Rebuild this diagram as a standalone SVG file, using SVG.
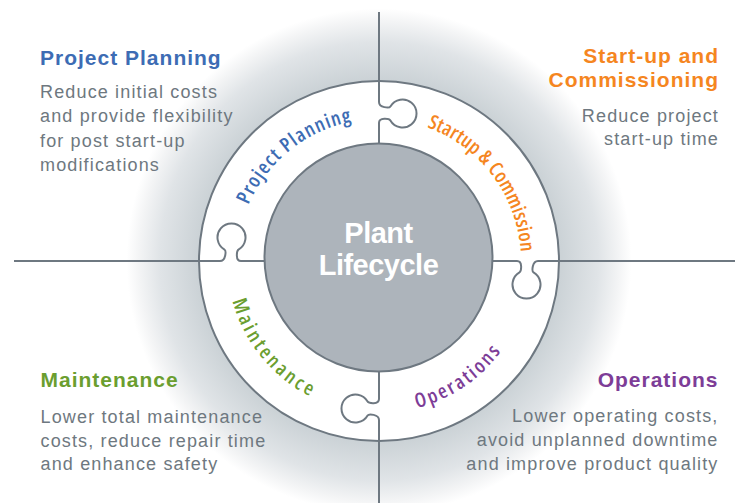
<svg xmlns="http://www.w3.org/2000/svg" width="746" height="503" viewBox="0 0 746 503">
<defs>
<radialGradient id="glow" cx="379" cy="261" r="255" gradientUnits="userSpaceOnUse">
<stop offset="0" stop-color="#c6cdd2"/>
<stop offset="0.71" stop-color="#cbd2d6"/>
<stop offset="0.86" stop-color="#e0e4e7"/>
<stop offset="0.94" stop-color="#f3f4f5"/>
<stop offset="0.99" stop-color="#ffffff"/>
</radialGradient>
<path id="knob" d="M 181 0 L 159 0 C 153 0 152.8 10.4 154.5 11.4 A 14 14 0 1 1 140.5 11.4 C 142.2 10.4 144 0 138 0 L 105 0"/>
<path id="arcTop" d="M 245.6 309.6 A 142 142 0 1 1 512.4 309.6"/>
<path id="arcBot" d="M 229.3 234.6 A 152 152 0 1 0 528.7 234.6"/>
<style>
.ln{fill:none;stroke:#6e7881;stroke-width:2}
.h{font-family:"Liberation Sans",Arial,sans-serif;font-weight:bold;font-size:21px;letter-spacing:1px}
.b{font-family:"Liberation Sans",Arial,sans-serif;font-size:18px;letter-spacing:1.15px;fill:#6e7880}
.r{text-anchor:end}
.arc{font-family:"Open Sans","Liberation Sans",sans-serif;font-stretch:75%;font-weight:600;font-size:20px;text-anchor:middle}
.blue{fill:#3d6cb4}.orange{fill:#f5861f}.green{fill:#6b9e2f}.purple{fill:#7d3d97}
</style>
</defs>
<rect x="0" y="0" width="746" height="503" fill="#ffffff"/>
<circle cx="379" cy="261" r="255" fill="url(#glow)"/>
<g id="connectors">
<line class="ln" x1="14" y1="261" x2="735" y2="261"/>
<line class="ln" x1="379" y1="12" x2="379" y2="503"/>
</g>
<g id="ring">
<circle cx="379" cy="261" r="180" fill="#ffffff" stroke="#6e7881" stroke-width="2"/>
</g>
<g id="knobs">
<use href="#knob" class="ln" transform="translate(379 261) rotate(-90)"/>
<use href="#knob" class="ln" transform="translate(379 261)"/>
<use href="#knob" class="ln" transform="translate(379 261) rotate(90)"/>
<use href="#knob" class="ln" transform="translate(379 261) rotate(180)"/>
</g>
<g id="center">
<circle cx="378.5" cy="257.5" r="114" fill="#adb4bb" stroke="#6e7881" stroke-width="2"/>
<text x="378.5" y="243.3" fill="#ffffff" font-family="Liberation Sans, Arial, sans-serif" font-weight="bold" font-size="29" text-anchor="middle" letter-spacing="-0.5">Plant</text>
<text x="378.5" y="275" fill="#ffffff" font-family="Liberation Sans, Arial, sans-serif" font-weight="bold" font-size="29" text-anchor="middle" letter-spacing="-0.5">Lifecycle</text>
</g>
<g id="project-planning">
<text class="arc blue"><textPath href="#arcTop" startOffset="176" textLength="138" lengthAdjust="spacing">Project Planning</textPath></text>
<text class="h blue" x="40" y="65">Project Planning</text>
<text class="b" x="40" y="98.3">Reduce initial costs</text>
<text class="b" x="40" y="122">and provide flexibility</text>
<text class="b" x="40" y="146.5">for post start-up</text>
<text class="b" x="40" y="170.5">modifications</text>
</g>
<g id="startup-commissioning">
<text class="arc orange"><textPath href="#arcTop" startOffset="404" textLength="165" lengthAdjust="spacing">Startup &amp; Commission</textPath></text>
<text class="h orange r" x="719" y="63.3">Start-up and</text>
<text class="h orange r" x="719" y="87.3">Commissioning</text>
<text class="b r" x="719" y="121.7">Reduce project</text>
<text class="b r" x="719" y="145.3">start-up time</text>
</g>
<g id="maintenance">
<text class="arc green"><textPath href="#arcBot" startOffset="130" textLength="126" lengthAdjust="spacing">Maintenance</textPath></text>
<text class="h green" x="40.5" y="387.3">Maintenance</text>
<text class="b" x="40.5" y="422.7">Lower total maintenance</text>
<text class="b" x="40.5" y="446.7">costs, reduce repair time</text>
<text class="b" x="40.5" y="470.3">and enhance safety</text>
</g>
<g id="operations">
<text class="arc purple"><textPath href="#arcBot" startOffset="355" textLength="103" lengthAdjust="spacing">Operations</textPath></text>
<text class="h purple r" x="718.5" y="387.3">Operations</text>
<text class="b r" x="718.5" y="422.3">Lower operating costs,</text>
<text class="b r" x="718.5" y="446">avoid unplanned downtime</text>
<text class="b r" x="718.5" y="470">and improve product quality</text>
</g>
</svg>
